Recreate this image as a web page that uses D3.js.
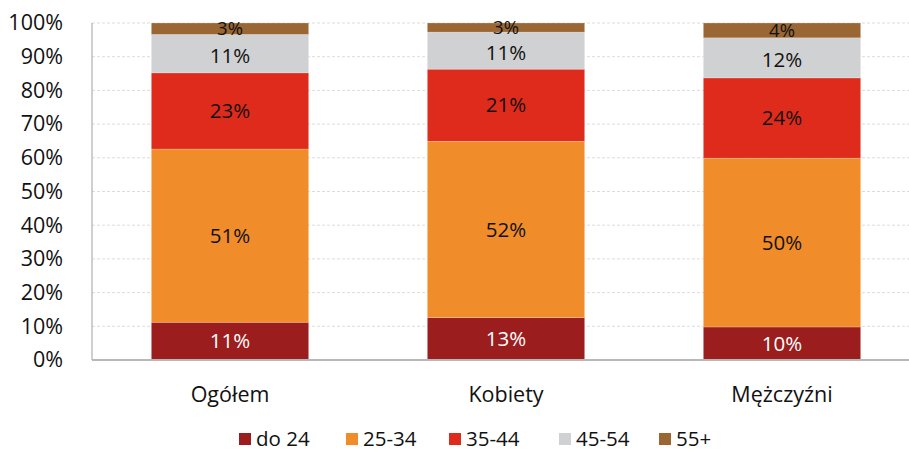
<!DOCTYPE html>
<html>
<head>
<meta charset="utf-8">
<script src="https://cdn.jsdelivr.net/npm/d3@7"></script>
<style>
  html, body { margin: 0; padding: 0; background: #fff; }
  svg { display: block; font-family: "Open Sans", "Noto Sans", sans-serif; }
</style>
</head>
<body>
<svg id="chart" width="909" height="453"></svg>
<script>
// Age structure (%) by group
const categories = ["Ogółem", "Kobiety", "Mężczyźni"];
const seriesNames = ["do 24", "25-34", "35-44", "45-54", "55+"];
const do24  = [11.2, 12.6, 9.8];
const s2534 = [51.4, 52.3, 50.1];
const s3544 = [22.6, 21.4, 23.8];
const s4554 = [11.4, 11.0, 11.9];
const s55   = [3.4, 2.7, 4.4];
const yTicks = [0, 10, 20, 30, 40, 50, 60, 70, 80, 90, 100];

const colors = ["#9b1d1d", "#f08c2a", "#de2b1b", "#d0d1d3", "#9a6633"];
const labelColors = ["#ffffff", "#111111", "#111111", "#111111", "#111111"];

const seriesValues = [do24, s2534, s3544, s4554, s55];
const rows = categories.map((c, i) => {
  const r = { category: c };
  seriesNames.forEach((s, k) => { r[s] = seriesValues[k][i]; });
  return r;
});

const FS = 21.5;
const svg = d3.select("#chart");
const margin = { left: 92, top: 23, bottom: 93 };
const plotBottom = 453 - margin.bottom;

const x = d3.scaleBand().domain(categories).range([margin.left, margin.left + 828]).paddingInner(0.43).paddingOuter(0.215);
const y = d3.scaleLinear().domain([0, 100]).range([plotBottom, margin.top]);

// gridlines
svg.append("g").selectAll("line").data(yTicks.filter(t => t > 0)).join("line")
  .attr("x1", margin.left).attr("x2", 909)
  .attr("y1", d => y(d)).attr("y2", d => y(d))
  .attr("stroke", "#dcdcdc").attr("stroke-width", 1)
  .attr("stroke-dasharray", "3,2");

// y axis labels
const yAxis = d3.axisLeft(y).tickValues(yTicks).tickFormat(d => d + "%").tickSize(0).tickPadding(29);
const gy = svg.append("g").attr("transform", `translate(${margin.left},0)`).call(yAxis);
gy.select(".domain").remove();
gy.selectAll("text").attr("font-size", FS).attr("fill", "#111").attr("font-family", "'Open Sans', sans-serif");

// stacked bars
const stack = d3.stack().keys(seriesNames);
const stacked = stack(rows);

const layers = svg.append("g").selectAll("g").data(stacked).join("g")
  .attr("fill", (d, i) => colors[i]);

layers.selectAll("rect").data(d => d).join("rect")
  .attr("x", d => x(d.data.category))
  .attr("width", x.bandwidth())
  .attr("y", d => y(d[1]))
  .attr("height", d => y(d[0]) - y(d[1]))
  .attr("stroke", "rgba(255,255,255,0.35)")
  .attr("stroke-width", 0.6);

// value labels (the two thin top segments get a small offset so they stay readable)
const labelShift = [0, 0, 0, 2, 0];
stacked.forEach((layer, i) => {
  svg.append("g").selectAll("text").data(layer).join("text")
    .attr("x", d => x(d.data.category) + x.bandwidth() / 2)
    .attr("y", d => (y(d[0]) + y(d[1])) / 2 + labelShift[i])
    .attr("dy", "0.35em")
    .attr("text-anchor", "middle")
    .attr("font-size", i === 4 ? 18.5 : 20.5)
    .attr("fill", labelColors[i])
    .text(d => Math.round(d[1] - d[0]) + "%");
});

// axis lines
svg.append("line").attr("x1", margin.left).attr("x2", margin.left)
  .attr("y1", margin.top).attr("y2", plotBottom)
  .attr("stroke", "#b0b0b0").attr("stroke-width", 1.2);
svg.append("line").attr("x1", margin.left).attr("x2", 909)
  .attr("y1", plotBottom).attr("y2", plotBottom)
  .attr("stroke", "#b8b8b8").attr("stroke-width", 2);

// category labels
const xAxis = d3.axisBottom(x).tickSize(0).tickPadding(27);
const gx = svg.append("g").attr("transform", `translate(0,${plotBottom})`).call(xAxis);
gx.select(".domain").remove();
gx.selectAll("text").attr("font-size", FS).attr("fill", "#111").attr("font-family", "'Open Sans', sans-serif");

// legend
const legendX = [239, 346, 449, 559, 659];
const legend = svg.append("g").selectAll("g").data(seriesNames).join("g")
  .attr("transform", (d, i) => `translate(${legendX[i]},433)`);
legend.append("rect").attr("width", 12).attr("height", 12).attr("fill", (d, i) => colors[i]);
legend.append("text").attr("x", 17).attr("y", 6).attr("dy", "0.35em")
  .attr("font-size", 20.5).attr("fill", "#111").text(d => d);
</script>
</body>
</html>
